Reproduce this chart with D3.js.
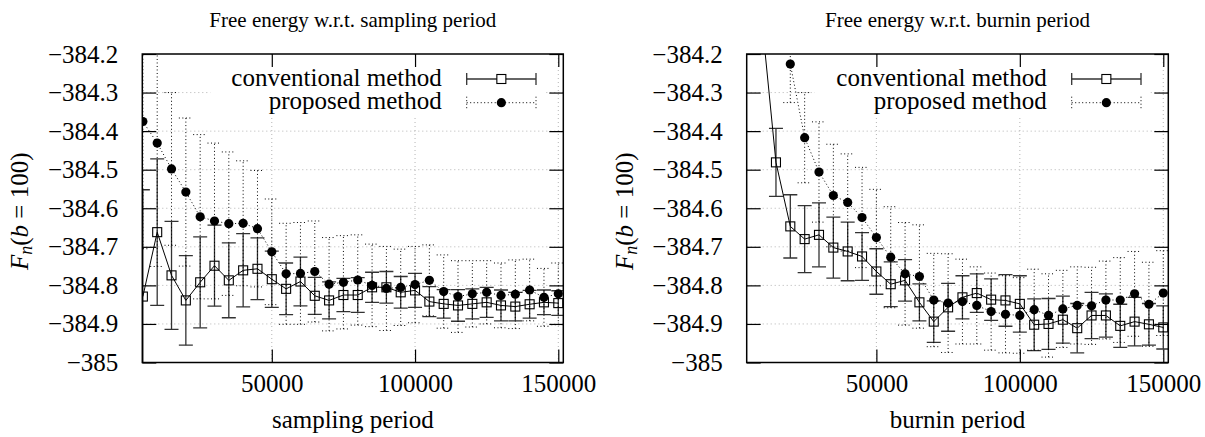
<!DOCTYPE html>
<html lang="en">
<head>
<meta charset="UTF-8">
<title>Free energy w.r.t. sampling / burnin period</title>
<script src="https://cdnjs.cloudflare.com/ajax/libs/d3/7.8.5/d3.min.js"></script>
<style>
  body { margin: 0; background: #fff; }
  svg text { font-family: "Liberation Serif", "DejaVu Serif", serif; fill: #000; }
</style>
</head>
<body>
<svg id="chart" width="1205" height="437"></svg>
<script>
// ---- data ----
const yTicks = [-384.2, -384.3, -384.4, -384.5, -384.6, -384.7, -384.8, -384.9, -385];
const xTicks = [50000, 100000, 150000];

// left panel: sampling period
const samplingPeriod = [5000, 10000, 15000, 20000, 25000, 30000, 35000, 40000, 45000, 50000,
  55000, 60000, 65000, 70000, 75000, 80000, 85000, 90000, 95000, 100000,
  105000, 110000, 115000, 120000, 125000, 130000, 135000, 140000, 145000, 150000];
const samplingConv = [-384.829, -384.662, -384.774, -384.839, -384.792, -384.749, -384.787, -384.761, -384.757, -384.784,
  -384.809, -384.790, -384.827, -384.839, -384.825, -384.825, -384.805, -384.805, -384.818, -384.813,
  -384.842, -384.848, -384.852, -384.848, -384.844, -384.852, -384.855, -384.849, -384.844, -384.846];
const samplingConvErr = [0.277, 0.19, 0.14, 0.116, 0.118, 0.105, 0.097, 0.095, 0.08, 0.073,
  0.067, 0.063, 0.048, 0.048, 0.043, 0.045, 0.039, 0.041, 0.041, 0.044,
  0.039, 0.037, 0.041, 0.039, 0.039, 0.04, 0.037, 0.036, 0.032, 0.032];
const samplingProp = [-384.375, -384.431, -384.498, -384.558, -384.622, -384.633, -384.640, -384.639, -384.653, -384.713,
  -384.770, -384.769, -384.764, -384.797, -384.792, -384.786, -384.800, -384.808, -384.805, -384.798,
  -384.787, -384.816, -384.829, -384.822, -384.818, -384.826, -384.823, -384.812, -384.831, -384.822];
const samplingPropErr = [0.33, 0.32, 0.198, 0.192, 0.213, 0.202, 0.186, 0.162, 0.151, 0.137,
  0.131, 0.132, 0.131, 0.121, 0.121, 0.117, 0.107, 0.109, 0.099, 0.099,
  0.092, 0.095, 0.093, 0.086, 0.082, 0.084, 0.089, 0.08, 0.075, 0.08];

// right panel: burnin period
const burninPeriodConv = [10000, 15000, 20000, 25000, 30000, 35000, 40000, 45000, 50000,
  55000, 60000, 65000, 70000, 75000, 80000, 85000, 90000, 95000, 100000,
  105000, 110000, 115000, 120000, 125000, 130000, 135000, 140000, 145000, 150000];
const burninConv = [-384.105, -384.481, -384.647, -384.680, -384.669, -384.702, -384.712, -384.725, -384.764,
  -384.797, -384.787, -384.844, -384.894, -384.857, -384.831, -384.820, -384.837, -384.839, -384.848,
  -384.902, -384.900, -384.889, -384.911, -384.878, -384.878, -384.905, -384.894, -384.901, -384.909];
const burninConvErr = [0.09, 0.088, 0.082, 0.087, 0.083, 0.079, 0.076, 0.062, 0.059,
  0.058, 0.054, 0.048, 0.054, 0.062, 0.056, 0.05, 0.054, 0.067, 0.073,
  0.067, 0.066, 0.061, 0.064, 0.06, 0.056, 0.056, 0.063, 0.054, 0.056];
const burninPeriodProp = [20000, 25000, 30000, 35000, 40000, 45000, 50000,
  55000, 60000, 65000, 70000, 75000, 80000, 85000, 90000, 95000, 100000,
  105000, 110000, 115000, 120000, 125000, 130000, 135000, 140000, 145000, 150000];
const burninProp = [-384.226, -384.417, -384.506, -384.567, -384.585, -384.624, -384.676,
  -384.727, -384.770, -384.777, -384.838, -384.846, -384.842, -384.852, -384.868, -384.875, -384.878,
  -384.863, -384.878, -384.861, -384.852, -384.853, -384.838, -384.838, -384.822, -384.849, -384.820];
const burninPropErr = [0.10, 0.117, 0.13, 0.133, 0.126, 0.13, 0.125,
  0.131, 0.133, 0.134, 0.121, 0.128, 0.11, 0.1, 0.1, 0.1, 0.098,
  0.105, 0.108, 0.1, 0.1, 0.1, 0.101, 0.11, 0.11, 0.109, 0.11];

const svg = d3.select("#chart");
const plotTop = 54, plotBottom = 362.5;
const fontSize = 25;

function drawPanel(p) {
  const x = d3.scaleLinear().domain([4800, 151750]).range([p.left, p.right]);
  const y = d3.scaleLinear().domain([-385, -384.2]).range([plotBottom, plotTop]);
  const g = svg.append("g");

  const clipId = "clip-" + p.id;
  g.append("clipPath").attr("id", clipId)
    .append("rect")
    .attr("x", p.left).attr("y", plotTop)
    .attr("width", p.right - p.left).attr("height", plotBottom - plotTop);

  // grid
  const grid = g.append("g")
    .attr("stroke", "#b4b4b4").attr("stroke-width", 1).attr("stroke-dasharray", "1,3");
  grid.selectAll(".gy").data(yTicks.slice(1, -1)).enter().append("line")
    .attr("x1", p.left).attr("x2", p.right)
    .attr("y1", d => y(d)).attr("y2", d => y(d));
  grid.selectAll(".gx").data(xTicks).enter().append("line")
    .attr("x1", d => x(d)).attr("x2", d => x(d))
    .attr("y1", plotTop).attr("y2", plotBottom);

  const plot = g.append("g").attr("clip-path", `url(#${clipId})`);

  // conventional method: error bars, line, open squares
  const cw = 7;
  const conv = p.convX.map((xv, i) => ({ x: xv, v: p.conv[i], e: p.convErr[i] }));
  const cb = plot.append("g").attr("stroke", "#333").attr("stroke-width", 1.3).attr("fill", "none");
  conv.forEach(d => {
    cb.append("line").attr("x1", x(d.x)).attr("x2", x(d.x)).attr("y1", y(d.v - d.e)).attr("y2", y(d.v + d.e));
    cb.append("line").attr("x1", x(d.x) - cw).attr("x2", x(d.x) + cw).attr("y1", y(d.v - d.e)).attr("y2", y(d.v - d.e));
    cb.append("line").attr("x1", x(d.x) - cw).attr("x2", x(d.x) + cw).attr("y1", y(d.v + d.e)).attr("y2", y(d.v + d.e));
  });
  plot.append("path").datum(conv)
    .attr("fill", "none").attr("stroke", "#000").attr("stroke-width", 1)
    .attr("d", d3.line().x(d => x(d.x)).y(d => y(d.v)));
  plot.selectAll(".sq").data(conv).enter().append("rect")
    .attr("x", d => x(d.x) - 4.5).attr("y", d => y(d.v) - 4.5)
    .attr("width", 9).attr("height", 9)
    .attr("fill", "none").attr("stroke", "#000").attr("stroke-width", 1.1);

  // proposed method: dotted error bars, dotted line, filled circles
  const prop = p.propX.map((xv, i) => ({ x: xv, v: p.prop[i], e: p.propErr[i] }));
  const pb = plot.append("g").attr("stroke", "#000").attr("stroke-width", 1)
    .attr("stroke-dasharray", "1,2.5").attr("fill", "none");
  prop.forEach(d => {
    pb.append("line").attr("x1", x(d.x)).attr("x2", x(d.x)).attr("y1", y(d.v - d.e)).attr("y2", y(d.v + d.e));
    pb.append("line").attr("x1", x(d.x) - cw).attr("x2", x(d.x) + cw).attr("y1", y(d.v - d.e)).attr("y2", y(d.v - d.e));
    pb.append("line").attr("x1", x(d.x) - cw).attr("x2", x(d.x) + cw).attr("y1", y(d.v + d.e)).attr("y2", y(d.v + d.e));
  });
  plot.append("path").datum(prop)
    .attr("fill", "none").attr("stroke", "#000").attr("stroke-width", 1).attr("stroke-dasharray", "1,2.5")
    .attr("d", d3.line().x(d => x(d.x)).y(d => y(d.v)));
  plot.selectAll(".dot").data(prop).enter().append("circle")
    .attr("cx", d => x(d.x)).attr("cy", d => y(d.v)).attr("r", 4.6).attr("fill", "#000");

  // legend (opaque box)
  g.append("rect").attr("x", p.left + 68).attr("y", plotTop + 1)
    .attr("width", p.right - p.left - 86).attr("height", 60).attr("fill", "#fff");
  const sx0 = p.right - 96.6, sx1 = p.right - 27.3, sxm = (sx0 + sx1) / 2;
  const ly1 = 79, ly2 = 102.7;
  const leg = g.append("g");
  leg.append("text").attr("x", p.right - 121.6).attr("y", ly1 + 6.5)
    .attr("text-anchor", "end").attr("font-size", fontSize).text("conventional method");
  leg.append("text").attr("x", p.right - 121.6).attr("y", ly2 + 6.5)
    .attr("text-anchor", "end").attr("font-size", fontSize).text("proposed method");
  const l1 = leg.append("g").attr("stroke", "#333").attr("stroke-width", 1.3);
  l1.append("line").attr("x1", sx0).attr("x2", sx1).attr("y1", ly1).attr("y2", ly1);
  l1.append("line").attr("x1", sx0).attr("x2", sx0).attr("y1", ly1 - 6).attr("y2", ly1 + 6);
  l1.append("line").attr("x1", sx1).attr("x2", sx1).attr("y1", ly1 - 6).attr("y2", ly1 + 6);
  leg.append("rect").attr("x", sxm - 4.5).attr("y", ly1 - 4.5).attr("width", 9).attr("height", 9)
    .attr("fill", "#fff").attr("stroke", "#000").attr("stroke-width", 1.1);
  const l2 = leg.append("g").attr("stroke", "#000").attr("stroke-width", 1).attr("stroke-dasharray", "1,2.5");
  l2.append("line").attr("x1", sx0).attr("x2", sx1).attr("y1", ly2).attr("y2", ly2);
  l2.append("line").attr("x1", sx0).attr("x2", sx0).attr("y1", ly2 - 6).attr("y2", ly2 + 6);
  l2.append("line").attr("x1", sx1).attr("x2", sx1).attr("y1", ly2 - 6).attr("y2", ly2 + 6);
  leg.append("circle").attr("cx", sxm).attr("cy", ly2).attr("r", 4.6).attr("fill", "#000");

  // axes: ticks inward on all sides
  const styleAxis = sel => {
    sel.select(".domain").remove();
    sel.selectAll(".tick line").attr("stroke", "#000").attr("stroke-width", 1.2);
    sel.selectAll(".tick text").attr("font-size", fontSize)
      .attr("font-family", "'Liberation Serif', 'DejaVu Serif', serif").attr("fill", "#000");
  };
  g.append("g").attr("transform", `translate(${p.left},0)`)
    .call(d3.axisLeft(y).tickValues(yTicks).tickSize(-14).tickPadding(24).tickFormat(d3.format("")))
    .call(styleAxis);
  g.append("g").attr("transform", `translate(${p.right},0)`)
    .call(d3.axisRight(y).tickValues(yTicks).tickSize(-14).tickFormat(""))
    .call(styleAxis);
  g.append("g").attr("transform", `translate(0,${plotBottom})`)
    .call(d3.axisBottom(x).tickValues(xTicks).tickSize(-13).tickPadding(12).tickFormat(d3.format("d")))
    .call(styleAxis);
  g.append("g").attr("transform", `translate(0,${plotTop})`)
    .call(d3.axisTop(x).tickValues(xTicks).tickSize(-13).tickFormat(""))
    .call(styleAxis);

  // frame
  g.append("rect").attr("x", p.left).attr("y", plotTop)
    .attr("width", p.right - p.left).attr("height", plotBottom - plotTop)
    .attr("fill", "none").attr("stroke", "#000").attr("stroke-width", 1.5);

  // titles and labels
  const cx = (p.left + p.right) / 2;
  g.append("text").attr("x", cx).attr("y", 26.5).attr("text-anchor", "middle")
    .attr("font-size", 21).text(p.title);
  g.append("text").attr("x", cx).attr("y", 428).attr("text-anchor", "middle")
    .attr("font-size", fontSize).text(p.xlabel);
  const yl = g.append("text")
    .attr("transform", `translate(${p.left - 114},${(plotTop + plotBottom) / 2 + 3}) rotate(-90)`)
    .attr("text-anchor", "middle").attr("font-size", fontSize);
  yl.append("tspan").attr("font-style", "italic").text("F");
  yl.append("tspan").attr("font-style", "italic").attr("font-size", 18).attr("dy", 4).text("n");
  yl.append("tspan").attr("dy", -4).text("(");
  yl.append("tspan").attr("font-style", "italic").text("b");
  yl.append("tspan").text(" = 100)");
}

drawPanel({
  id: "sampling", left: 142.3, right: 563.3,
  title: "Free energy w.r.t. sampling period", xlabel: "sampling period",
  convX: samplingPeriod, conv: samplingConv, convErr: samplingConvErr,
  propX: samplingPeriod, prop: samplingProp, propErr: samplingPropErr
});
drawPanel({
  id: "burnin", left: 746.7, right: 1168.3,
  title: "Free energy w.r.t. burnin period", xlabel: "burnin period",
  convX: burninPeriodConv, conv: burninConv, convErr: burninConvErr,
  propX: burninPeriodProp, prop: burninProp, propErr: burninPropErr
});
</script>
</body>
</html>
